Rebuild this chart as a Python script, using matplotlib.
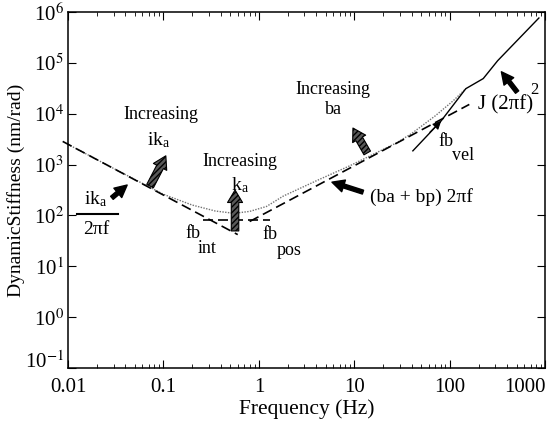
import matplotlib
matplotlib.use("Agg")
import matplotlib.pyplot as plt
import numpy as np

plt.rcParams["font.family"] = ["Liberation Serif", "DejaVu Serif"]
plt.rcParams["mathtext.fontset"] = "stix"

# asymptote lines (Hz, nm/rad)
int_freq = [0.0088, 0.6]
int_stiff = [2850, 42]            # ik_a / 2*pi*f

ka_freq = [0.26, 1.3]
ka_stiff = [80, 80]               # k_a level

damp_freq = [0.8, 160]
damp_stiff = [76, 15200]          # (ba + bp) 2*pi*f

inertia_freq = [41, 81, 147, 224, 317, 857]
inertia_stiff = [1860, 7200, 31000, 49000, 110000, 760000]   # J (2*pi*f)^2

# measured dynamic stiffness (dotted grey)
meas_freq = [0.01, 0.03, 0.1, 0.2, 0.35, 0.55, 0.8, 1.2, 1.8, 4.0, 9.0, 28, 40, 70, 108, 147]
meas_stiff = [2500, 840, 260, 160, 122, 110, 120, 150, 240, 480, 950, 2700, 4100, 9000, 17800, 31000]

ytick_vals = [1e-1, 1e0, 1e1, 1e2, 1e3, 1e4, 1e5, 1e6]
ytick_labels = ["10$^{-1}$", "10$^{0}$", "10$^{1}$", "10$^{2}$",
                "10$^{3}$", "10$^{4}$", "10$^{5}$", "10$^{6}$"]
xtick_vals = [0.01, 0.1, 1, 10, 100, 1000]
xtick_labels = ["0.01", "0.1", "1", "10", "100", "1000"]

fig = plt.figure(figsize=(5.55, 4.26), dpi=100)
ax = fig.add_axes([0.1225, 0.136, 0.86, 0.836])

dash = (0, (6, 3))
ax.plot(meas_freq, meas_stiff, color="0.45", lw=1.0, ls=(0, (1, 1)))
ax.plot(int_freq, int_stiff, color="k", lw=1.2, ls=dash, clip_on=False)
ax.plot(ka_freq, ka_stiff, color="k", lw=1.2, ls=dash)
ax.plot(damp_freq, damp_stiff, color="k", lw=1.2, ls=dash)
ax.plot(inertia_freq, inertia_stiff, color="k", lw=1.0)

ax.set_xscale("log")
ax.set_yscale("log")
ax.set_xlim(0.01, 1000)
ax.set_ylim(0.1, 1e6)
ax.set_xticks(xtick_vals)
ax.set_xticklabels(xtick_labels)
ax.set_yticks(ytick_vals)
ax.set_yticklabels(ytick_labels)
ax.yaxis.set_minor_locator(matplotlib.ticker.NullLocator())
ax.tick_params(which="both", direction="in", top=True, right=True, labelsize=15)
ax.tick_params(which="major", length=6)
ax.tick_params(which="minor", length=3)
ax.tick_params(axis="x", pad=7)
ax.tick_params(axis="y", pad=3)
ax.get_xticklabels()[-1].set_horizontalalignment("right")
ax.get_yticklabels()[0].set_verticalalignment("baseline")
for s in ax.spines.values():
    s.set_linewidth(1.1)

ax.set_xlabel("Frequency (Hz)", fontsize=15.5, labelpad=2)
ax.set_ylabel("DynamicStiffness (nm/rad)", fontsize=14, labelpad=0)

tr = ax.transAxes
fs = 13
ax.text(0.195, 0.711, "Increasing", transform=tr, fontsize=fs, ha="center", va="center")
ax.text(0.189, 0.640, "ik$_\\mathregular{a}$", transform=tr, fontsize=fs + 1, ha="center", va="center")
ax.text(0.361, 0.579, "Increasing", transform=tr, fontsize=fs, ha="center", va="center")
ax.text(0.361, 0.514, "k$_\\mathregular{a}$", transform=tr, fontsize=fs + 1, ha="center", va="center")
ax.text(0.556, 0.781, "Increasing", transform=tr, fontsize=fs, ha="center", va="center")
ax.text(0.556, 0.725, "ba", transform=tr, fontsize=fs, ha="center", va="center")

# ik_a / 2 pi f
ax.text(0.058, 0.475, "ik$_\\mathregular{a}$", transform=tr, fontsize=fs + 1, ha="center", va="center")
ax.plot([0.019, 0.105], [0.433, 0.433], color="k", lw=1.5, transform=tr)
ax.text(0.060, 0.388, "2\u03c0f", transform=tr, fontsize=fs + 1, ha="center", va="center")

ax.text(0.245, 0.379, "fb", transform=tr, fontsize=fs, ha="left", va="center")
ax.text(0.272, 0.336, "int", transform=tr, fontsize=fs, ha="left", va="center")
ax.text(0.407, 0.374, "fb", transform=tr, fontsize=fs, ha="left", va="center")
ax.text(0.437, 0.331, "pos", transform=tr, fontsize=fs, ha="left", va="center")
ax.text(0.776, 0.635, "fb", transform=tr, fontsize=fs, ha="left", va="center")
ax.text(0.804, 0.596, "vel", transform=tr, fontsize=fs, ha="left", va="center")
ax.text(0.633, 0.480, "(ba + bp) 2\u03c0f", transform=tr, fontsize=fs + 1, ha="left", va="center")
ax.text(0.860, 0.739, "J (2\u03c0f)", transform=tr, fontsize=fs + 2, ha="left", va="center")
ax.text(0.968, 0.780, "2", transform=tr, fontsize=fs - 1, ha="left", va="center")

black = dict(arrowstyle="simple,head_length=0.55,head_width=0.55,tail_width=0.18",
             fc="k", ec="k", mutation_scale=16, shrinkA=0, shrinkB=0)
hatched = dict(arrowstyle="simple,head_length=0.5,head_width=0.6,tail_width=0.3",
               fc="0.35", ec="k", lw=0.8, hatch="//////", mutation_scale=18,
               shrinkA=0, shrinkB=0)
small = dict(arrowstyle="-|>,head_length=0.5,head_width=0.25", fc="k", ec="k",
             lw=0.8, mutation_scale=10, shrinkA=0, shrinkB=0)

arrows = [
    ((0.092, 0.478), (0.124, 0.514), black),
    ((0.172, 0.511), (0.205, 0.596), hatched),
    ((0.350, 0.385), (0.350, 0.500), hatched),
    ((0.627, 0.604), (0.597, 0.674), hatched),
    ((0.618, 0.494), (0.553, 0.522), black),
    ((0.758, 0.662), (0.782, 0.694), small),
    ((0.941, 0.775), (0.908, 0.832), black),
]
for tail, tip, props in arrows:
    ax.annotate("", xy=tip, xytext=tail, xycoords=tr, textcoords=tr, arrowprops=props)

fig.savefig("out.png", dpi=100)
